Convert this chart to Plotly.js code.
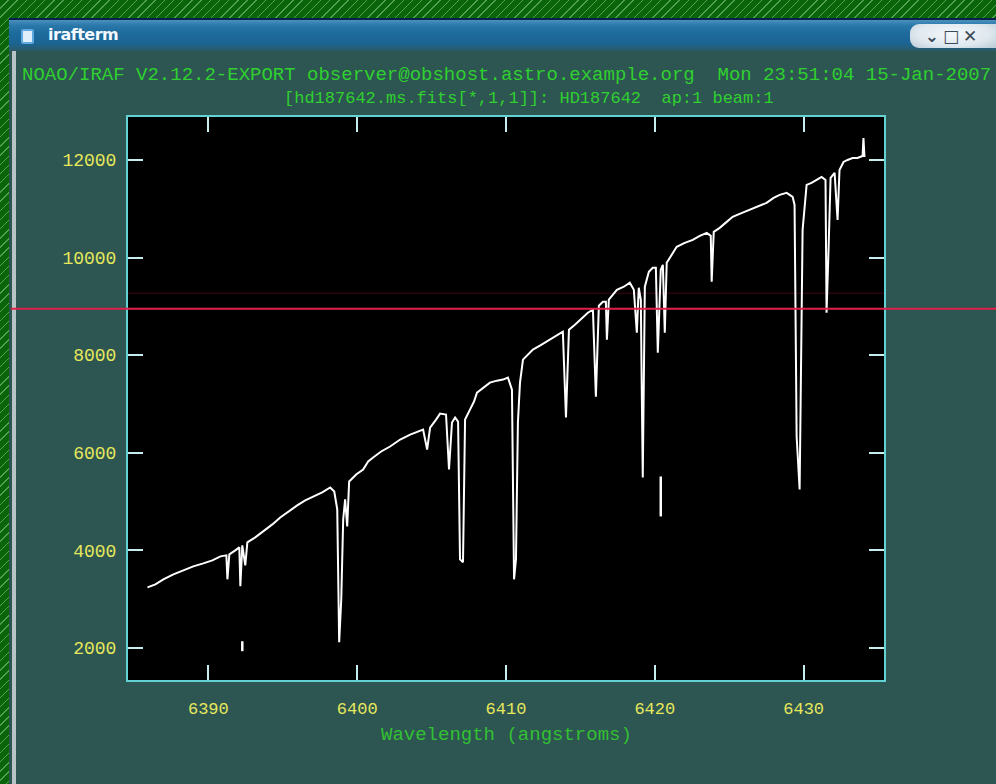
<!DOCTYPE html>
<html>
<head>
<meta charset="utf-8">
<script src="https://cdn.plot.ly/plotly-3.0.1.min.js"></script>
<style>
  html, body { margin: 0; padding: 0; }
  body {
    width: 996px; height: 784px; overflow: hidden; position: relative;
    background-color: #0a650a;
    background-image: repeating-linear-gradient(135deg, rgba(0,0,0,0) 0px, rgba(0,0,0,0) 5.5px, rgba(170,235,170,0.45) 5.5px, rgba(170,235,170,0.45) 6.5px);
  }
  #frameTop { position: absolute; left: 9px; top: 18px; width: 987px; height: 2px; background: #0b1f4c; }
  #titlebar {
    position: absolute; left: 9px; top: 20px; width: 987px; height: 31px;
    background: linear-gradient(180deg, #4a8fbe 0%, #2a78aa 18%, #1c6a9c 45%, #1b6493 75%, #2c5a66 100%);
  }
  #titletext {
    position: absolute; left: 48px; top: 25px; color: #f4f8ff;
    font: bold 16px "DejaVu Sans", sans-serif; letter-spacing: -0.5px;
  }
  #icon {
    position: absolute; left: 21px; top: 29px; width: 9px; height: 11px;
    background: #dfeefa; border: 2px solid #5fa8e0; border-radius: 2px;
  }
  #buttons {
    position: absolute; left: 910px; top: 24px; width: 86px; height: 24px;
    background: radial-gradient(ellipse at 50% 40%, #f4f8fb 0%, #dfe8ee 60%, #b9cad6 100%);
    border-radius: 9px 0 0 9px; color: #3a4a56;
    font: bold 17px "DejaVu Sans", sans-serif; line-height: 24px; text-align: center; letter-spacing: 4px;
  }
  #body { position: absolute; left: 9px; top: 51px; width: 987px; height: 733px; background: #2d5551; }
  #leftEdge { position: absolute; left: 12px; top: 51px; width: 4px; height: 733px; background: #b7c3c4; }
  #plot { position: absolute; left: 0; top: 0; width: 996px; height: 784px; }
</style>
</head>
<body>
<div id="frameTop"></div>
<div id="titlebar"></div>
<div id="icon"></div>
<div id="titletext">irafterm</div>
<div id="buttons">⌄□✕</div>
<div id="body"></div>
<div id="leftEdge"></div>
<div id="plot"></div>
<script>
// Spectrum: wavelength (Angstrom) and flux samples
const wavelength = [
  6385.91, 6386.44, 6386.98, 6387.65, 6388.32, 6388.99, 6389.66, 6390.27, 6390.81, 6391.21,
  6391.28, 6391.41, 6391.81, 6392.08, 6392.15, 6392.28, 6392.48, 6392.62, 6393.15, 6393.69,
  6394.30, 6394.83, 6395.37, 6395.97, 6396.51, 6397.05, 6397.65, 6398.19, 6398.46, 6398.66,
  6398.79, 6398.93, 6399.06, 6399.19, 6399.33, 6399.46, 6399.93, 6400.40, 6400.74, 6401.07,
  6401.61, 6402.21, 6402.89, 6403.56, 6404.09, 6404.43, 6404.70, 6404.90, 6405.30, 6405.57,
  6405.97, 6406.17, 6406.37, 6406.58, 6406.78, 6406.91, 6407.11, 6407.25, 6407.58, 6407.85,
  6408.05, 6408.46, 6408.92, 6409.39, 6409.80, 6410.13, 6410.40, 6410.54, 6410.67, 6410.80,
  6410.94, 6411.14, 6411.48, 6411.81, 6412.28, 6412.95, 6413.49, 6413.82, 6414.03, 6414.23,
  6414.63, 6415.17, 6415.50, 6415.84, 6416.04, 6416.24, 6416.51, 6416.71, 6416.78, 6416.91,
  6417.18, 6417.45, 6417.92, 6418.32, 6418.59, 6418.79, 6418.92, 6419.06, 6419.13, 6419.19,
  6419.33, 6419.60, 6419.86, 6420.07, 6420.20, 6420.40, 6420.54, 6420.67, 6420.80, 6421.14,
  6421.47, 6422.01, 6422.55, 6423.02, 6423.49, 6423.76, 6423.82, 6423.96, 6424.36, 6424.83,
  6425.23, 6425.70, 6426.37, 6426.91, 6427.51, 6427.98, 6428.39, 6428.86, 6429.26, 6429.39,
  6429.53, 6429.73, 6429.86, 6429.93, 6430.20, 6430.53, 6430.87, 6431.21, 6431.47, 6431.54,
  6431.68, 6431.81, 6432.08, 6432.28, 6432.41, 6432.68, 6432.95, 6433.29, 6433.62, 6433.96,
  6434.02, 6434.09
];
const flux = [
  3243, 3304, 3407, 3509, 3591, 3673, 3734, 3796, 3877, 3898,
  3407, 3918, 4000, 4062, 3264, 4102, 3693, 4164, 4266, 4389,
  4532, 4675, 4798, 4921, 5023, 5105, 5187, 5289, 5207, 4839,
  2118, 2998, 4634, 5044, 4491, 5412, 5555, 5657, 5821, 5903,
  6026, 6128, 6271, 6373, 6435, 6476, 6067, 6517, 6680, 6803,
  6783, 5657, 6619, 6721, 6639, 3816, 3755, 6680, 6885, 7049,
  7233, 7335, 7437, 7478, 7499, 7540, 7294, 3407, 3816, 6619,
  7437, 7908, 8010, 8113, 8194, 8317, 8419, 8481, 6721, 8522,
  8624, 8788, 8870, 8931, 7151, 9013, 9095, 9095, 8317, 9136,
  9238, 9340, 9402, 9483, 9340, 8460, 9381, 9136, 7090, 5494,
  9402, 9708, 9790, 9790, 8051, 9749, 9852, 8460, 9893, 10056,
  10220, 10302, 10363, 10445, 10506, 10445, 9504, 10527, 10609, 10731,
  10834, 10895, 10977, 11059, 11120, 11223, 11284, 11325, 11243, 11079,
  6333, 5248, 9483, 10568, 11488, 11529, 11591, 11652, 11591, 8870,
  10220, 11632, 11734, 10772, 11795, 11959, 12000, 12041, 12041, 12082,
  12450, 12061
];
// Detached fragments of deep line cores
const coreWave = [6392.28, 6392.28, null, 6420.40, 6420.40];
const coreFlux = [2138, 1934, null, 5514, 4696];

// Axis ticks
const xTickVals = [6390, 6400, 6410, 6420, 6430];
const xTickText = ['6390', '6400', '6410', '6420', '6430'];
const yTickVals = [2000, 4000, 6000, 8000, 10000, 12000];
const yTickText = ['2000', '4000', '6000', '8000', '10000', '12000'];

// Cursor level marker
const cursorLevel = 8950;
const cursorShadow = 9270;

const titleLine1 = 'NOAO/IRAF V2.12.2-EXPORT observer@obshost.astro.example.org  Mon 23:51:04 15-Jan-2007';
const titleLine2 = '[hd187642.ms.fits[*,1,1]]: HD187642  ap:1 beam:1';
const xLabel = 'Wavelength (angstroms)';

const mono = 'Liberation Mono, DejaVu Sans Mono, monospace';

const traces = [
  {
    x: wavelength, y: flux, type: 'scatter', mode: 'lines',
    line: { color: '#ffffff', width: 2 }, hoverinfo: 'skip', showlegend: false
  },
  {
    x: coreWave, y: coreFlux, type: 'scatter', mode: 'lines', connectgaps: false,
    line: { color: '#ffffff', width: 2.5 }, hoverinfo: 'skip', showlegend: false
  }
];

const axisCommon = {
  showline: true, linecolor: '#62d2d2', linewidth: 2, mirror: 'ticks',
  ticks: 'inside', ticklen: 15, tickwidth: 2, tickcolor: '#c6eeee',
  showgrid: false, zeroline: false, tickmode: 'array',
  tickfont: { family: mono, size: 17, color: '#e6e85c' }
};

const layout = {
  width: 996, height: 784,
  margin: { l: 128, r: 112, t: 117, b: 104 },
  paper_bgcolor: 'rgba(0,0,0,0)',
  plot_bgcolor: '#000000',
  showlegend: false,
  xaxis: Object.assign({}, axisCommon, {
    range: [6384.6, 6435.4], tickvals: xTickVals, ticktext: xTickText, ticklabelstandoff: 12
  }),
  yaxis: Object.assign({}, axisCommon, {
    range: [1344, 12880], tickvals: yTickVals, ticktext: yTickText, ticklabelstandoff: 6,
    tickfont: { family: mono, size: 18, color: '#e6e85c' }
  }),
  shapes: [
    { type: 'line', xref: 'paper', yref: 'y', x0: 0, x1: 1, y0: cursorShadow, y1: cursorShadow,
      line: { color: 'rgba(110,10,30,0.6)', width: 1 }, layer: 'below' },
    { type: 'line', xref: 'paper', yref: 'y', x0: -0.155, x1: 1.16, y0: cursorLevel, y1: cursorLevel,
      line: { color: '#e0204c', width: 2 } }
  ],
  annotations: [
    { text: titleLine1, xref: 'paper', yref: 'paper', x: 0.5, y: 1.074, xanchor: 'center', yanchor: 'middle',
      showarrow: false, font: { family: mono, size: 19, color: '#2fd02f' } },
    { text: titleLine2, xref: 'paper', yref: 'paper', x: 0.53, y: 1.033, xanchor: 'center', yanchor: 'middle',
      showarrow: false, font: { family: mono, size: 17, color: '#2fd02f' } },
    { text: xLabel, xref: 'paper', yref: 'paper', x: 0.5, y: -0.098, xanchor: 'center', yanchor: 'middle',
      showarrow: false, font: { family: mono, size: 19, color: '#33c033' } }
  ]
};

Plotly.newPlot('plot', traces, layout, { displayModeBar: false, staticPlot: true });
</script>
</body>
</html>
